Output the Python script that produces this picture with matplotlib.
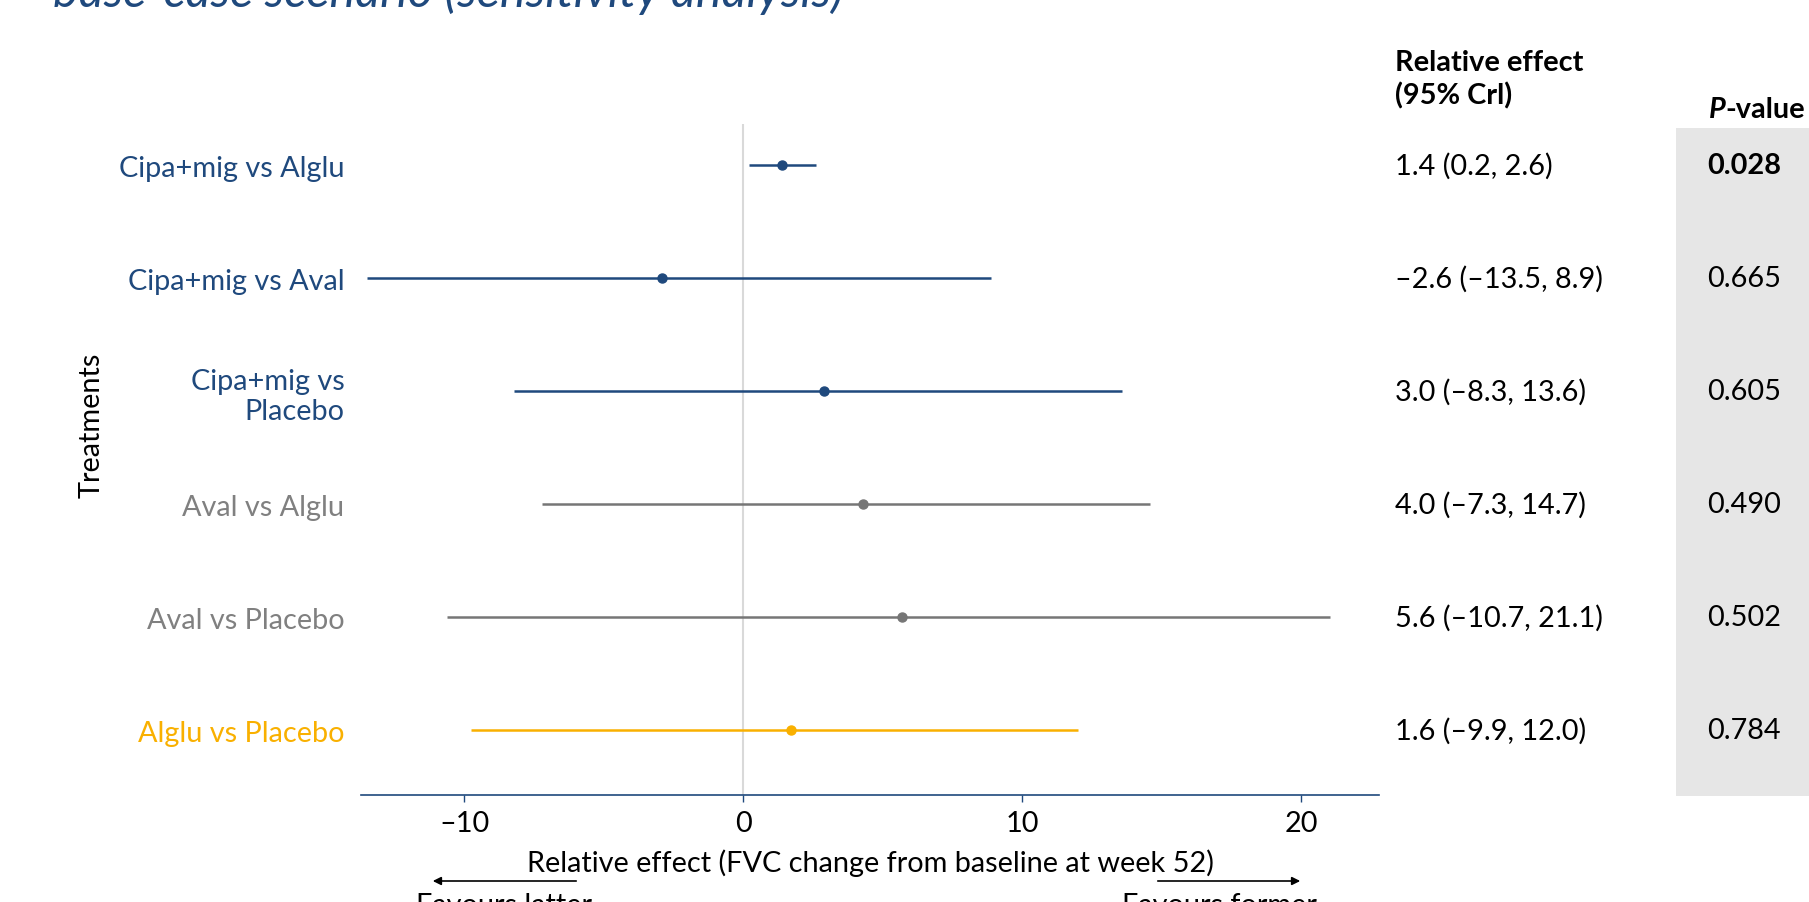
import matplotlib
matplotlib.use("Agg")
import matplotlib.pyplot as plt
from matplotlib.patches import Rectangle
from matplotlib.transforms import blended_transform_factory

plt.rcParams['font.family'] = ['Lato', 'DejaVu Sans']

# data
comparisons = ['Cipa+mig vs Alglu', 'Cipa+mig vs Aval', 'Cipa+mig vs\nPlacebo',
               'Aval vs Alglu', 'Aval vs Placebo', 'Alglu vs Placebo']
point_est = [1.4, -2.9, 2.9, 4.3, 5.7, 1.7]
ci_low = [0.2, -13.5, -8.2, -7.2, -10.6, -9.75]
ci_high = [2.6, 8.9, 13.6, 14.6, 21.05, 12.0]
effect_text = ['1.4 (0.2, 2.6)', '\u20132.6 (\u201313.5, 8.9)', '3.0 (\u20138.3, 13.6)',
               '4.0 (\u20137.3, 14.7)', '5.6 (\u201310.7, 21.1)', '1.6 (\u20139.9, 12.0)']
p_values = ['0.028', '0.665', '0.605', '0.490', '0.502', '0.784']
p_bold = [True, False, False, False, False, False]
xticks = [-10, 0, 10, 20]

blue = '#1F497D'
grey = '#767676'
yellow = '#F9B000'
row_colors = [blue, blue, blue, grey, grey, yellow]
label_colors = [blue, blue, blue, '#808080', '#808080', yellow]
fs = 20.8

W, H = 1809, 903
fig = plt.figure(figsize=(W / 100, H / 100), dpi=100)
ax = fig.add_axes([361 / W, 1 - 796 / H, (1379 - 361) / W, (796 - 125) / H])

ypos = list(range(len(comparisons), 0, -1))

ax.axvline(0, color='#D9D9D9', lw=1.5, zorder=1)
for y, m, lo, hi, c in zip(ypos, point_est, ci_low, ci_high, row_colors):
    ax.plot([lo, hi], [y, y], color=c, lw=1.8, solid_capstyle='butt', zorder=2)
    ax.plot(m, y, 'o', color=c, ms=6.5, zorder=3)

ax.set_xlim(-13.7, 22.8)
ax.set_ylim(0.425, 6.363)
ax.set_xticks(xticks)
ax.set_xticklabels([f'{v:d}'.replace('-', '\u2013') for v in xticks], fontsize=fs)
ax.set_yticks(ypos)
ax.set_yticklabels(comparisons, fontsize=fs)
for lab, c in zip(ax.get_yticklabels(), label_colors):
    lab.set_color(c)
    lab.set_multialignment('right')
ax.tick_params(axis='y', length=0, pad=12)
ax.tick_params(axis='x', length=5, width=1, color=blue, pad=6)
for s in ['top', 'right', 'left']:
    ax.spines[s].set_visible(False)
ax.spines['bottom'].set_color(blue)
ax.spines['bottom'].set_linewidth(1.2)

# axis titles
fig.text(92 / W, 1 - 425 / H, 'Treatments', rotation=90, ha='center', va='center', fontsize=fs)
fig.text(870 / W, 1 - 863 / H, 'Relative effect (FVC change from baseline at week 52)',
         ha='center', va='center', fontsize=fs)

# favours arrows
ax.annotate('', xy=(430 / W, 1 - 882 / H), xytext=(579 / W, 1 - 882 / H),
            xycoords='figure fraction', textcoords='figure fraction',
            arrowprops=dict(arrowstyle='-|>', color='black', lw=1.2, mutation_scale=12))
ax.annotate('', xy=(1303 / W, 1 - 882 / H), xytext=(1155 / W, 1 - 882 / H),
            xycoords='figure fraction', textcoords='figure fraction',
            arrowprops=dict(arrowstyle='-|>', color='black', lw=1.2, mutation_scale=12))
fig.text(416 / W, 1 - 893 / H, 'Favours latter', ha='left', va='top', fontsize=fs)
fig.text(1122 / W, 1 - 893 / H, 'Favours former', ha='left', va='top', fontsize=fs)

# title (cut off at the top in the reference)
fig.text(53 / W, 1 - 7 / H, 'base-case scenario (sensitivity analysis)', ha='left',
         va='baseline', fontsize=35, style='italic', color=blue)

# table on the right
fig.patches.append(Rectangle((1676 / W, 1 - 797 / H), 1 - 1676 / W, (797 - 129) / H,
                             transform=fig.transFigure, facecolor='#E6E6E6',
                             edgecolor='none', zorder=0))
tr = blended_transform_factory(fig.transFigure, ax.transData)
for y, t, p, b in zip(ypos, effect_text, p_values, p_bold):
    fig.text(1395 / W, y, t, transform=tr, ha='left', va='center', fontsize=fs)
    fig.text(1707 / W, y, p, transform=tr, ha='left', va='center', fontsize=fs,
             fontweight='bold' if b else 'normal')

fig.text(1395 / W, 1 - 80 / H, 'Relative effect\n(95% Crl)', ha='left', va='center',
         fontsize=fs, fontweight='bold', linespacing=1.3)
pv = fig.text(1805 / W, 1 - 118 / H, '-value', ha='right', va='baseline', fontsize=fs,
              fontweight='bold')
ax.annotate('P', xy=(0, 0), xycoords=pv, ha='right', va='bottom', fontsize=fs,
            fontweight='bold', style='italic', annotation_clip=False)

fig.savefig('out.png', dpi=100)
